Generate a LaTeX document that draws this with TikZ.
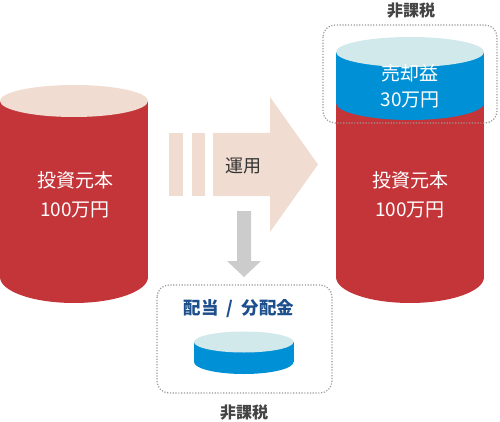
\documentclass[tikz,border=0pt]{standalone}
\usepackage{fontspec}
\setmainfont{Noto Sans CJK JP}
\usetikzlibrary{positioning}
\definecolor{cylred}{HTML}{C4353A}
\definecolor{cyltop}{HTML}{F0DCD0}
\definecolor{discblue}{HTML}{0090D5}
\definecolor{disctop}{HTML}{D2E9EC}
\definecolor{arrowgray}{HTML}{CCCCCC}
\definecolor{dotgray}{HTML}{999999}
\definecolor{labelgray}{HTML}{444444}
\definecolor{labelblue}{HTML}{1D4F8C}

\begin{document}
\begin{tikzpicture}[x=1pt,y=-1pt]
    \tikzstyle{every node}=[inner sep=0pt]
    \tikzstyle{bigtext}=[text=white,font=\fontsize{19}{19}\selectfont]
    \tikzstyle{taxfree}=[text=labelgray,font=\fontsize{16}{16}\selectfont\bfseries]
    \tikzstyle{dotbox}=[draw=dotgray,line width=1.2pt,dash pattern=on 1.2pt off 1.6pt,rounded corners=12pt]
    \useasboundingbox (0,0) rectangle (500,422);

    \fill[cylred] (0,101) rectangle (148,277);
    \fill[cylred] (74,277) ellipse [x radius=74,y radius=26];
    \fill[cyltop] (74,101) ellipse [x radius=74,y radius=16];

    \fill[cyltop] (169,133) rectangle (183,196);
    \fill[cyltop] (192,133) rectangle (205,196);
    \fill[cyltop] (213,133) -- (270,133) -- (270,97) -- (318,164.5)
        -- (270,232) -- (270,196) -- (213,196) -- cycle;
    \fill[arrowgray] (237,211) -- (251,211) -- (251,261) -- (261,261)
        -- (244,277) -- (227,261) -- (237,261) -- cycle;

    \fill[cylred] (336,103) rectangle (484,277);
    \fill[cylred] (410,277) ellipse [x radius=74,y radius=26];
    \fill[discblue] (336,52) rectangle (484,103);
    \fill[discblue] (410,103) ellipse [x radius=74,y radius=17];
    \fill[disctop] (410,52) ellipse [x radius=74,y radius=15];

    \fill[discblue] (194,342) rectangle (293.5,362);
    \fill[discblue] (243.75,362) ellipse [x radius=49.75,y radius=12];
    \fill[disctop] (243.75,342) ellipse [x radius=49.75,y radius=10.5];

    \draw[dotbox] (323,25) rectangle (497,123);
    \draw[dotbox] (157,285) rectangle (332,393);

    \node[bigtext] (capL)   at (75,180)  {投資元本};
    \node[bigtext] (amtL)   at (75,210)  {100万円};
    \node[bigtext] (capR)   at (410,180) {投資元本};
    \node[bigtext] (amtR)   at (410,210) {100万円};
    \node[bigtext] (gain)   at (410,73)  {売却益};
    \node[bigtext] (gainamt) at (410,100) {30万円};
    \node[text=black!80,font=\fontsize{18}{18}\selectfont] (invest) at (243,166) {運用};
    \node[text=labelblue,font=\fontsize{17.5}{17.5}\selectfont\bfseries] (dividend) at (239,309) {配当\hspace{8pt}/\hspace{8pt}分配金};
    \node[taxfree] (taxtop) at (411,11)  {非課税};
    \node[taxfree] (taxbot) at (244,413) {非課税};
\end{tikzpicture}
\end{document}
